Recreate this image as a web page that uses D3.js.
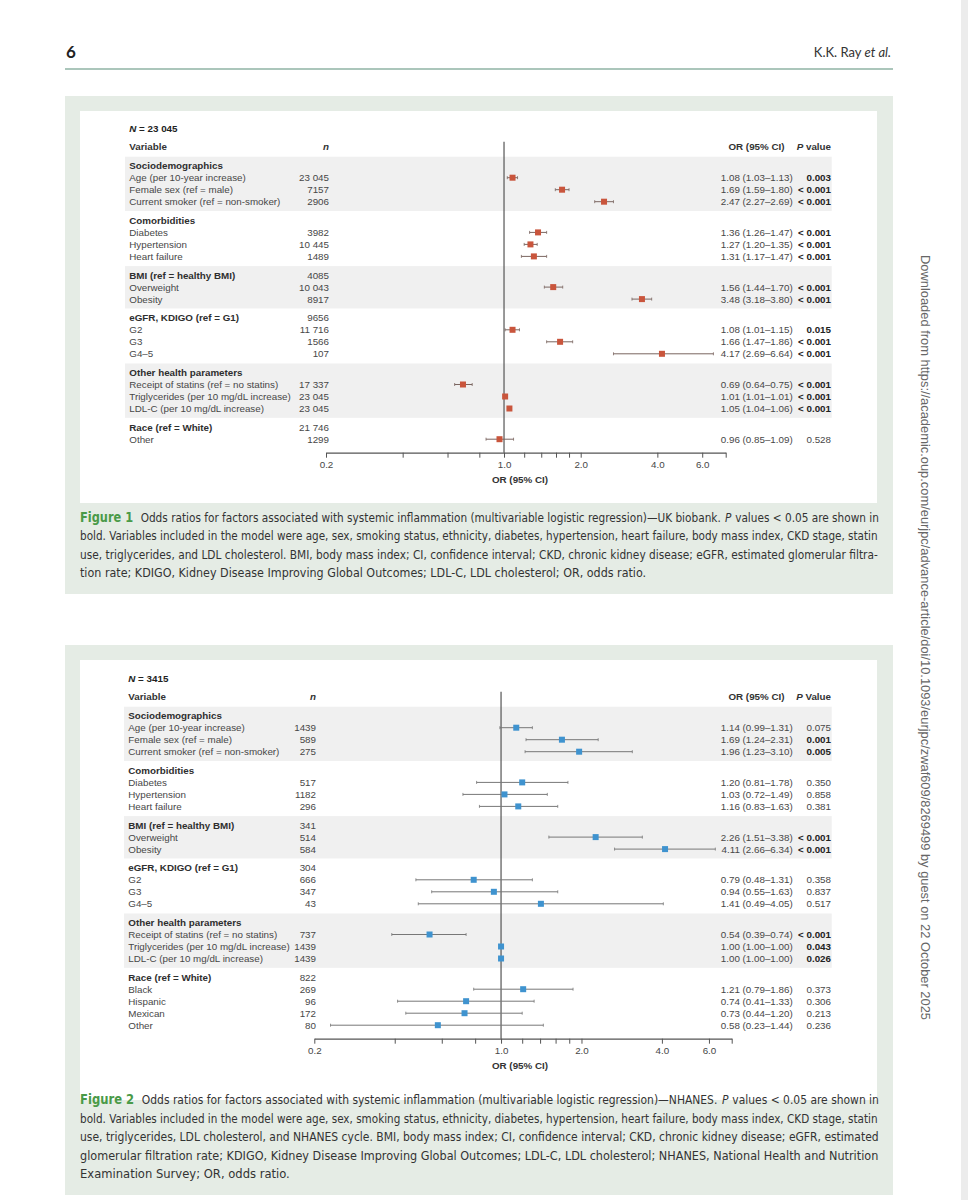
<!DOCTYPE html>
<html><head><meta charset="utf-8">
<script src="https://cdn.jsdelivr.net/npm/d3@7"></script>
<style>body{margin:0;background:#fff} svg{display:block}</style>
</head><body><svg id="page" width="968" height="1200"></svg>
<script>
// ---------------- DATA ----------------
const groupNames1 = ["Sociodemographics","Comorbidities","BMI (ref = healthy BMI)","eGFR, KDIGO (ref = G1)","Other health parameters","Race (ref = White)"];
const groupN1 = ["","","4085","9656","","21 746"];
const itemGroup1 = [0,0,0,1,1,1,2,2,3,3,3,4,4,4,5];
const itemLabel1 = ["Age (per 10-year increase)","Female sex (ref = male)","Current smoker (ref = non-smoker)","Diabetes","Hypertension","Heart failure","Overweight","Obesity","G2","G3","G4–5","Receipt of statins (ref = no statins)","Triglycerides (per 10 mg/dL increase)","LDL-C (per 10 mg/dL increase)","Other"];
const itemN1 = ["23 045","7157","2906","3982","10 445","1489","10 043","8917","11 716","1566","107","17 337","23 045","23 045","1299"];
const or1 = [1.08,1.69,2.47,1.36,1.27,1.31,1.56,3.48,1.08,1.66,4.17,0.69,1.01,1.05,0.96];
const lo1 = [1.03,1.59,2.27,1.26,1.20,1.17,1.44,3.18,1.01,1.47,2.69,0.64,1.01,1.04,0.85];
const hi1 = [1.13,1.80,2.69,1.47,1.35,1.47,1.70,3.80,1.15,1.86,6.64,0.75,1.01,1.06,1.09];
const p1 = ["0.003","< 0.001","< 0.001","< 0.001","< 0.001","< 0.001","< 0.001","< 0.001","0.015","< 0.001","< 0.001","< 0.001","< 0.001","< 0.001","0.528"];

const groupNames2 = ["Sociodemographics","Comorbidities","BMI (ref = healthy BMI)","eGFR, KDIGO (ref = G1)","Other health parameters","Race (ref = White)"];
const groupN2 = ["","","341","304","","822"];
const itemGroup2 = [0,0,0,1,1,1,2,2,3,3,3,4,4,4,5,5,5,5];
const itemLabel2 = ["Age (per 10-year increase)","Female sex (ref = male)","Current smoker (ref = non-smoker)","Diabetes","Hypertension","Heart failure","Overweight","Obesity","G2","G3","G4–5","Receipt of statins (ref = no statins)","Triglycerides (per 10 mg/dL increase)","LDL-C (per 10 mg/dL increase)","Black","Hispanic","Mexican","Other"];
const itemN2 = ["1439","589","275","517","1182","296","514","584","666","347","43","737","1439","1439","269","96","172","80"];
const or2 = [1.14,1.69,1.96,1.20,1.03,1.16,2.26,4.11,0.79,0.94,1.41,0.54,1.00,1.00,1.21,0.74,0.73,0.58];
const lo2 = [0.99,1.24,1.23,0.81,0.72,0.83,1.51,2.66,0.48,0.55,0.49,0.39,1.00,1.00,0.79,0.41,0.44,0.23];
const hi2 = [1.31,2.31,3.10,1.78,1.49,1.63,3.38,6.34,1.31,1.63,4.05,0.74,1.00,1.00,1.86,1.33,1.20,1.44];
const p2 = ["0.075","0.001","0.005","0.350","0.858","0.381","< 0.001","< 0.001","0.358","0.837","0.517","< 0.001","0.043","0.026","0.373","0.306","0.213","0.236"];

const tickValues = [0.2,0.4,0.6,0.8,1.0,1.2,1.4,1.6,1.8,2.0,4.0,6.0];
const tickLabels = ["0.2","","","","1.0","","","","","2.0","4.0","6.0"];

const caption1 = [
  "Odds ratios for factors associated with systemic inflammation (multivariable logistic regression)—UK biobank.|P|values < 0.05 are shown in",
  "bold. Variables included in the model were age, sex, smoking status, ethnicity, diabetes, hypertension, heart failure, body mass index, CKD stage, statin",
  "use, triglycerides, and LDL cholesterol. BMI, body mass index; CI, confidence interval; CKD, chronic kidney disease; eGFR, estimated glomerular filtra-",
  "tion rate; KDIGO, Kidney Disease Improving Global Outcomes; LDL-C, LDL cholesterol; OR, odds ratio."
];
const caption2 = [
  "Odds ratios for factors associated with systemic inflammation (multivariable logistic regression)—NHANES.|P|values < 0.05 are shown in",
  "bold. Variables included in the model were age, sex, smoking status, ethnicity, diabetes, hypertension, heart failure, body mass index, CKD stage, statin",
  "use, triglycerides, LDL cholesterol, and NHANES cycle. BMI, body mass index; CI, confidence interval; CKD, chronic kidney disease; eGFR, estimated",
  "glomerular filtration rate; KDIGO, Kidney Disease Improving Global Outcomes; LDL-C, LDL cholesterol; NHANES, National Health and Nutrition",
  "Examination Survey; OR, odds ratio."
];

// ---------------- DRAW ----------------
const svg = d3.select("#page");
const TF = "'Liberation Sans', Arial, Helvetica, sans-serif";
const CF = "'Liberation Sans Narrow','DejaVu Sans Condensed','Open Sans', sans-serif";
const TXT = "#474747";
svg.append("rect").attr("width",968).attr("height",1200).attr("fill","#fff");
svg.append("rect").attr("x",961).attr("y",0).attr("width",7).attr("height",1200).attr("fill","#ececec");

// page header
svg.append("text").attr("x",66).attr("y",58).attr("font-family","Lato, 'Open Sans', sans-serif")
  .attr("font-weight","bold").attr("font-size",17).attr("fill","#222").text("6");
const hdr = svg.append("text").attr("x",891).attr("y",57).attr("text-anchor","end")
  .attr("font-family","Lato, 'Open Sans', sans-serif").attr("font-size",13).attr("fill","#333");
hdr.append("tspan").text("K.K. Ray ");
hdr.append("tspan").attr("font-style","italic").text("et al.");
svg.append("line").attr("x1",65).attr("x2",893).attr("y1",69).attr("y2",69)
  .attr("stroke","#8fb3a5").attr("stroke-width",1.5);

// side text
svg.append("text").attr("transform","translate(925,255) rotate(90)")
  .attr("dominant-baseline","central").attr("font-family",TF).attr("font-size",12).attr("fill","#666")
  .attr("textLength",765).attr("lengthAdjust","spacingAndGlyphs")
  .text("Downloaded from https://academic.oup.com/eurjpc/advance-article/doi/10.1093/eurjpc/zwaf609/8269499 by guest on 22 October 2025");

function drawCaption(lines, figNum, x0, y0, lh, widthFull, widthLast) {
  lines.forEach((ln, i) => {
    const target = i === lines.length-1 ? widthLast : widthFull;
    const yy = y0 + i*lh;
    let segs;
    if (i === 0) {
      const parts = ln.split("|");
      segs = [
        {t:"Figure " + figNum, bold:true, gapAfter:8},
        {t:parts[0], gapAfter:4.5},
        {t:parts[1], italic:true, gapAfter:4},
        {t:parts[2]}
      ];
    } else segs = [{t:ln}];
    const lg = svg.append("g");
    let cx = 0;
    segs.forEach(s => {
      const e = lg.append("text").attr("x", cx).attr("y", 0).attr("font-family",CF)
        .attr("font-size", s.bold ? 13.5 : 12.5)
        .attr("fill", s.bold ? "#4a9a48" : "#333").attr("font-weight", s.bold ? "bold" : "normal")
        .attr("font-style", s.italic ? "italic" : "normal").text(s.t);
      cx += e.node().getComputedTextLength() + (s.gapAfter||0);
    });
    const k = target / cx;
    lg.attr("transform", `translate(${x0},${yy}) scale(${k},1)`);
  });
}

function drawForest(cfg, d) {
  const g = svg.append("g");
  const x = d3.scaleLog().domain([0.2, cfg.domainMax]).range(cfg.range);
  g.append("rect").attr("x",65).attr("y",cfg.boxTop).attr("width",828).attr("height",cfg.boxH).attr("fill","#e5ece5");
  g.append("rect").attr("x",80).attr("y",cfg.boxTop+15).attr("width",797).attr("height",cfg.whiteH).attr("fill","#fff");

  const rows = [], bands = [];
  let y = cfg.firstY;
  d.groups.forEach((name, gi) => {
    const start = y;
    rows.push({type:"h", label:name, n:d.groupN[gi], y});
    d.itemGroup.forEach((ig, i) => {
      if (ig === gi) { y += cfg.step; rows.push({type:"i", i, label:d.labels[i], n:d.n[i], y}); }
    });
    bands.push({gi, y0:start - 9, y1:y + 9.35});
    y += cfg.gap;
  });
  const lastY = rows[rows.length-1].y;
  const axisY = lastY + 13.5;

  g.selectAll(".band").data(bands.filter(b => b.gi % 2 === 0)).join("rect")
    .attr("x",cfg.bandX0).attr("width",831.7-cfg.bandX0)
    .attr("y",b => b.y0).attr("height",b => b.y1-b.y0).attr("fill","#f0f0f0");

  const fs = 9.8;
  const nt = g.append("text").attr("x",cfg.labelX).attr("y",cfg.nY).attr("dy","0.35em")
    .attr("font-family",TF).attr("font-size",fs).attr("font-weight","bold").attr("fill","#222");
  nt.append("tspan").attr("font-style","italic").text("N");
  nt.append("tspan").text(" = " + cfg.N);
  const hy = cfg.nY + 18.4;
  g.append("text").attr("x",cfg.labelX).attr("y",hy).attr("dy","0.35em").attr("font-family",TF)
    .attr("font-size",fs).attr("font-weight","bold").attr("fill","#333").text("Variable");
  g.append("text").attr("x",cfg.nRight).attr("y",hy).attr("dy","0.35em").attr("text-anchor","end").attr("font-family",TF)
    .attr("font-size",fs).attr("font-weight","bold").attr("font-style","italic").attr("fill","#333").text("n");
  g.append("text").attr("x",756.5).attr("y",hy).attr("dy","0.35em").attr("text-anchor","middle").attr("font-family",TF)
    .attr("font-size",fs).attr("font-weight","bold").attr("fill","#333").text("OR (95% CI)");
  const pt = g.append("text").attr("x",831).attr("y",hy).attr("dy","0.35em").attr("text-anchor","end").attr("font-family",TF)
    .attr("font-size",fs).attr("font-weight","bold").attr("fill","#333");
  pt.append("tspan").attr("font-style","italic").text("P");
  pt.append("tspan").text(cfg.pHead);

  rows.forEach(r => {
    g.append("text").attr("x",cfg.labelX).attr("y",r.y).attr("dy","0.35em").attr("font-family",TF)
      .attr("font-size",fs).attr("font-weight", r.type==="h" ? "bold" : "normal")
      .attr("fill", r.type==="h" ? "#2e2e2e" : TXT).text(r.label);
    if (r.n) g.append("text").attr("x",cfg.nRight).attr("y",r.y).attr("dy","0.35em").attr("text-anchor","end")
      .attr("font-family",TF).attr("font-size",fs).attr("fill",TXT).text(r.n);
    if (r.type === "i") {
      const i = r.i;
      g.append("text").attr("x",792.7).attr("y",r.y).attr("dy","0.35em").attr("text-anchor","end")
        .attr("font-family",TF).attr("font-size",fs).attr("fill",TXT)
        .text(`${d.or[i].toFixed(2)} (${d.lo[i].toFixed(2)}–${d.hi[i].toFixed(2)})`);
      const sig = d.p[i].startsWith("<") || parseFloat(d.p[i]) < 0.05;
      g.append("text").attr("x",831).attr("y",r.y).attr("dy","0.35em").attr("text-anchor","end")
        .attr("font-family",TF).attr("font-size",fs).attr("font-weight", sig ? "bold" : "normal")
        .attr("fill", sig ? "#222" : TXT).text(d.p[i]);
    }
  });

  g.append("line").attr("x1",x(1)).attr("x2",x(1)).attr("y1",hy-5).attr("y2",axisY)
    .attr("stroke","#555").attr("stroke-width",1.2);

  rows.filter(r => r.type === "i").forEach(r => {
    const i = r.i, xl = x(d.lo[i]), xh = x(d.hi[i]);
    g.append("line").attr("x1",xl).attr("x2",xh).attr("y1",r.y).attr("y2",r.y).attr("stroke",cfg.ciColor).attr("stroke-width",1);
    [xl, xh].forEach(xx => g.append("line").attr("x1",xx).attr("x2",xx).attr("y1",r.y-1.5).attr("y2",r.y+1.5).attr("stroke",cfg.ciColor).attr("stroke-width",0.8));
    g.append("rect").attr("x",x(d.or[i])-3).attr("y",r.y-3).attr("width",6).attr("height",6).attr("fill",cfg.color);
  });

  const tv = tickValues.concat([cfg.domainMax]);
  const ax = d3.axisBottom(x).tickValues(tv).tickSize(5).tickSizeOuter(0)
    .tickFormat(v => { const k = tickValues.indexOf(v); return k >= 0 ? tickLabels[k] : ""; });
  const ag = g.append("g").attr("transform",`translate(0,${axisY})`).call(ax);
  ag.select(".domain").attr("stroke","#555").attr("stroke-width",1.2);
  ag.selectAll(".tick line").attr("stroke","#555").attr("stroke-width",1);
  ag.selectAll(".tick text").attr("font-family",TF).attr("font-size",fs).attr("fill",TXT).attr("y",8.5);
  g.append("text").attr("x",520).attr("y",axisY+27).attr("dy","0.35em").attr("text-anchor","middle")
    .attr("font-family",TF).attr("font-size",fs).attr("font-weight","bold").attr("fill","#333").text("OR (95% CI)");
}

drawForest({boxTop:96, boxH:498, whiteH:392, nY:128.3, firstY:165.7, step:12, gap:18.7,
  labelX:129.3, nRight:329, bandX0:125, range:[326,725.7], domainMax:7.42, N:"23 045", pHead:" value",
  color:"#c9553c", ciColor:"#7a6560"},
  {groups:groupNames1, groupN:groupN1, itemGroup:itemGroup1, labels:itemLabel1, n:itemN1, or:or1, lo:lo1, hi:hi1, p:p1});

drawForest({boxTop:645, boxH:550, whiteH:440, nY:678.3, firstY:715.7, step:12, gap:18.7,
  labelX:128.3, nRight:316, bandX0:124, range:[314.3,731.7], domainMax:7.3, N:"3415", pHead:" Value",
  color:"#3f93cf", ciColor:"#777"},
  {groups:groupNames2, groupN:groupN2, itemGroup:itemGroup2, labels:itemLabel2, n:itemN2, or:or2, lo:lo2, hi:hi2, p:p2});

drawCaption(caption1, 1, 80, 522, 18.4, 799, 567);
drawCaption(caption2, 2, 80, 1104, 18.5, 799, 210);
</script></body></html>
